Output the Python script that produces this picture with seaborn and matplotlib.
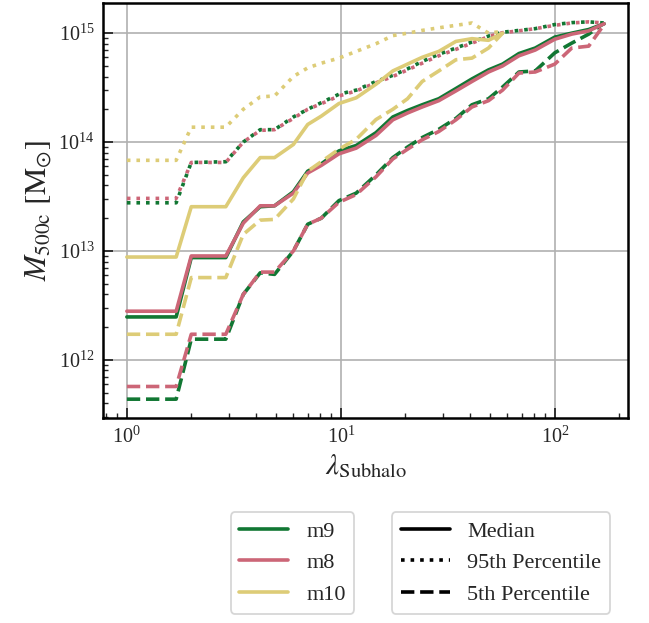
import numpy as np
import pandas as pd
import matplotlib
matplotlib.use("Agg")
import matplotlib.pyplot as plt
from matplotlib.lines import Line2D
import seaborn as sns

# ---- data ----
lam_grid = [1.0, 1.7, 2.0, 2.9, 3.5, 4.2, 4.9, 6.0, 7.0, 8.1, 9.8, 11.8, 14.6,
            17.5, 20.5, 24, 28.7, 34.5, 41, 49, 57, 68, 81, 100, 120, 144, 170]
lam_m10 = lam_grid[:21]

m9_median = [2.48e12, 2.48e12, 8.7e12, 8.7e12, 1.85e13, 2.55e13, 2.6e13, 3.5e13, 5.4e13,
             6.3e13, 8.3e13, 9.3e13, 1.22e14, 1.7e14, 1.95e14, 2.2e14, 2.5e14, 3.1e14,
             3.8e14, 4.6e14, 5.2e14, 6.5e14, 7.3e14, 9.2e14, 1.0e15, 1.08e15, 1.22e15]
m8_median = [2.8e12, 2.8e12, 9.0e12, 9.0e12, 1.8e13, 2.6e13, 2.6e13, 3.4e13, 5.2e13,
             6.1e13, 7.8e13, 8.8e13, 1.15e14, 1.6e14, 1.85e14, 2.1e14, 2.4e14, 2.95e14,
             3.6e14, 4.4e14, 5.0e14, 6.2e14, 7.0e14, 8.8e14, 9.8e14, 1.05e15, 1.22e15]
m10_median = [8.8e12, 8.8e12, 2.55e13, 2.55e13, 4.7e13, 7.2e13, 7.2e13, 9.5e13, 1.45e14,
              1.73e14, 2.26e14, 2.55e14, 3.4e14, 4.5e14, 5.2e14, 6.0e14, 6.8e14, 8.4e14,
              8.9e14, 8.6e14, 1.0e15]

m9_p95 = [2.77e13, 2.77e13, 6.5e13, 6.6e13, 1.0e14, 1.3e14, 1.3e14, 1.7e14, 2.0e14,
          2.3e14, 2.75e14, 3.0e14, 3.6e14, 4.1e14, 4.7e14, 5.5e14, 6.4e14, 7.3e14,
          8.3e14, 9.4e14, 1.02e15, 1.06e15, 1.1e15, 1.2e15, 1.25e15, 1.27e15, 1.24e15]
m8_p95 = [3.04e13, 3.04e13, 6.5e13, 6.5e13, 1.0e14, 1.28e14, 1.3e14, 1.65e14, 2.0e14,
          2.25e14, 2.65e14, 2.95e14, 3.5e14, 4.0e14, 4.6e14, 5.3e14, 6.2e14, 7.1e14,
          8.1e14, 9.3e14, 1.01e15, 1.05e15, 1.1e15, 1.18e15, 1.24e15, 1.27e15, 1.24e15]
m10_p95 = [6.8e13, 6.8e13, 1.37e14, 1.37e14, 2.0e14, 2.6e14, 2.65e14, 4.0e14, 4.8e14,
           5.3e14, 5.9e14, 6.8e14, 8.0e14, 9.5e14, 1.0e15, 1.06e15, 1.12e15, 1.18e15,
           1.24e15, 1.0e15, 1.04e15]

m9_p5 = [4.36e11, 4.36e11, 1.55e12, 1.55e12, 4.0e12, 6.3e12, 6.1e12, 1.0e13, 1.76e13,
         2.0e13, 2.9e13, 3.4e13, 5.0e13, 7.2e13, 9.0e13, 1.1e14, 1.31e14, 1.65e14,
         2.2e14, 2.5e14, 3.2e14, 4.4e14, 4.5e14, 6.6e14, 8.1e14, 9.8e14, 1.24e15]
m8_p5 = [5.7e11, 5.7e11, 1.72e12, 1.72e12, 4.0e12, 6.4e12, 6.4e12, 1.0e13, 1.76e13,
         2.0e13, 2.8e13, 3.3e13, 4.8e13, 7.0e13, 8.6e13, 1.05e14, 1.25e14, 1.6e14,
         2.1e14, 2.4e14, 3.0e14, 4.3e14, 4.4e14, 5.2e14, 7.3e14, 7.6e14, 1.2e15]
m10_p5 = [1.72e12, 1.72e12, 5.7e12, 5.7e12, 1.42e13, 1.92e13, 1.95e13, 3.0e13, 5.4e13,
          6.6e13, 8.6e13, 1.06e14, 1.61e14, 2.0e14, 2.5e14, 3.6e14, 4.5e14, 5.7e14,
          5.9e14, 7.3e14, 1.0e15]

runs = ["m9", "m8", "m10"]
colors = {"m9": "#117733", "m8": "#CC6677", "m10": "#DDCC77"}
stats = ["Median", "95th Percentile", "5th Percentile"]
styles = {"Median": "-", "95th Percentile": ":", "5th Percentile": "--"}

series = {
    ("m9", "Median"): (lam_grid, m9_median),
    ("m9", "95th Percentile"): (lam_grid, m9_p95),
    ("m9", "5th Percentile"): (lam_grid, m9_p5),
    ("m8", "Median"): (lam_grid, m8_median),
    ("m8", "95th Percentile"): (lam_grid, m8_p95),
    ("m8", "5th Percentile"): (lam_grid, m8_p5),
    ("m10", "Median"): (lam_m10, m10_median),
    ("m10", "95th Percentile"): (lam_m10, m10_p95),
    ("m10", "5th Percentile"): (lam_m10, m10_p5),
}

# ---- style ----
sns.set_theme(style="white")
plt.rcParams["font.family"] = ["Liberation Serif", "DejaVu Serif"]
plt.rcParams["mathtext.fontset"] = "stix"
plt.rcParams["axes.edgecolor"] = "black"
plt.rcParams["axes.linewidth"] = 1.8

fig = plt.figure(figsize=(6.49, 6.23), dpi=100)
ax = fig.add_axes([0.1587, 0.329, 0.8089, 0.6662])

for run in runs:
    for st in stats:
        xs, ys = series[(run, st)]
        df = pd.DataFrame({"lam": xs, "M": ys})
        sns.lineplot(data=df, x="lam", y="M", ax=ax, color=colors[run],
                     linestyle=styles[st], linewidth=2.6, sort=False,
                     estimator=None, legend=False)

ax.set_xscale("log")
ax.set_yscale("log")
ax.grid(True, which="major", color="#b0b0b0", linewidth=1.2)
ax.set_axisbelow(True)
ax.tick_params(which="major", direction="in", length=7, width=1.3, labelsize=14.5,
               left=True, bottom=True, top=False, right=False, pad=6)
ax.tick_params(which="minor", direction="in", length=3.5, width=1.0,
               left=True, bottom=True, top=False, right=False)
ax.set_xlabel(r"$\lambda_{\rm Subhalo}$", fontsize=21, labelpad=3)
ax.set_ylabel(r"$M_{\rm 500c}\ [\rm M_{\odot}]$", fontsize=22, labelpad=4)

run_handles = [Line2D([0], [0], color=colors[r], lw=2.6) for r in runs]
stat_handles = [Line2D([0], [0], color="black", lw=2.6, linestyle=styles[s]) for s in stats]

leg1 = fig.legend(run_handles, runs, loc="upper center", bbox_to_anchor=(0.4507, 0.178),
                  fontsize=16, frameon=True, fancybox=True, edgecolor="#cccccc",
                  handlelength=2.2, borderaxespad=0)
leg2 = fig.legend(stat_handles, stats, loc="upper center", bbox_to_anchor=(0.772, 0.178),
                  fontsize=16, frameon=True, fancybox=True, edgecolor="#cccccc",
                  handlelength=2.2, borderaxespad=0)
for lg in (leg1, leg2):
    lg.get_frame().set_linewidth(1.3)

fig.savefig("out.png", dpi=100)
